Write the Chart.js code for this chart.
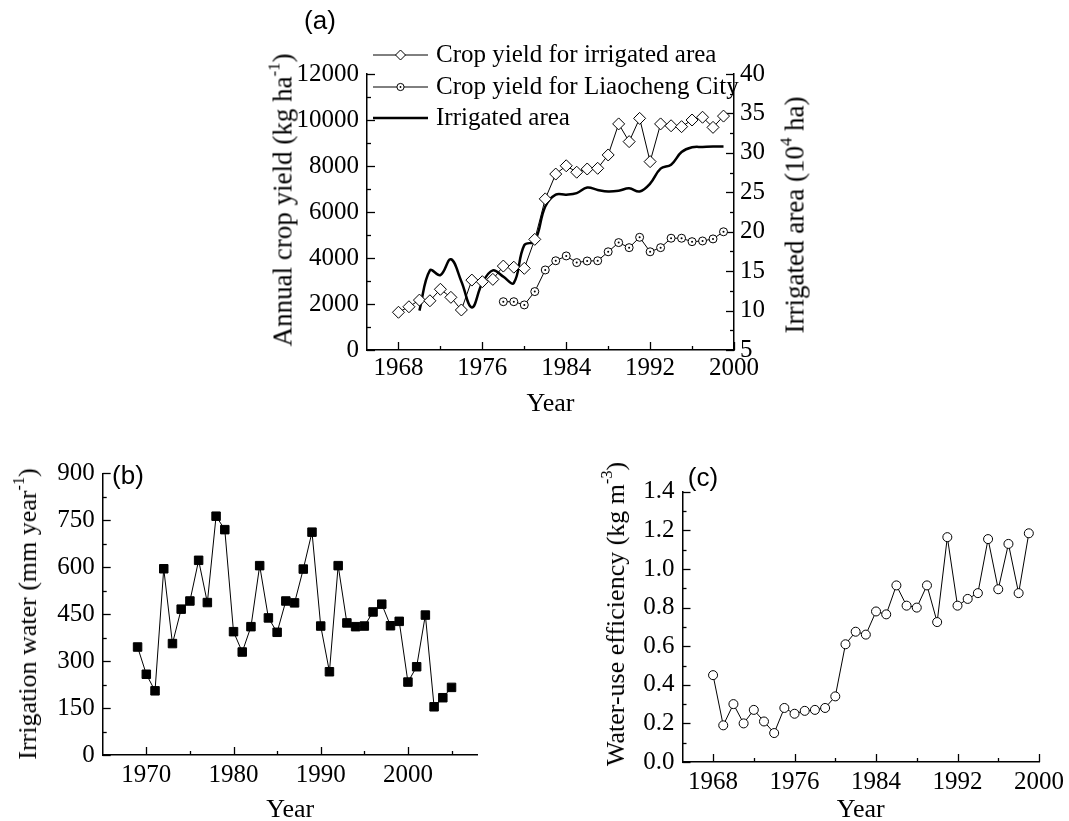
<!DOCTYPE html>
<html>
<head>
<meta charset="utf-8">
<title>Crop yield, irrigation water and water-use efficiency</title>
<script src="https://cdn.jsdelivr.net/npm/chart.js@4.4.1/dist/chart.umd.min.js"></script>
<style>
  html, body { margin: 0; padding: 0; background: #fff; overflow: hidden; }
  body { width: 1069px; height: 821px; position: relative; font-family: "Liberation Serif", "Times New Roman", serif; color: #000; }
  .box { position: absolute; }
  .ttl { position: absolute; white-space: nowrap; font-size: 26px; line-height: 1; transform: translate(-50%, -50%) rotate(-90deg); }
  .ttl.big { font-size: 27px; }
  .ttl sup { font-size: 62%; position: relative; top: -0.15em; line-height: 0; vertical-align: super; }
  .tag { position: absolute; font-family: "Liberation Sans", Arial, sans-serif; font-size: 26px; line-height: 1; transform: translate(-50%, -50%); }
</style>
</head>
<body>
<div class="box" style="left:230px;top:0;"><canvas id="chart-a" width="600" height="430"></canvas></div>
<div class="box" style="left:0;top:420px;"><canvas id="chart-b" width="520" height="403"></canvas></div>
<div class="box" style="left:530px;top:420px;"><canvas id="chart-c" width="539" height="403"></canvas></div>

<div class="tag" style="left:320px;top:20px;">(a)</div>
<div class="tag" style="left:128px;top:475px;">(b)</div>
<div class="tag" style="left:703px;top:477px;">(c)</div>

<div class="ttl big" style="left:283px;top:200px;">Annual crop yield (kg ha<sup>-1</sup>)</div>
<div class="ttl big" style="left:795px;top:215px;">Irrigated area (10<sup>4</sup> ha)</div>
<div class="ttl" style="left:28px;top:614px;">Irrigation water (mm year<sup>-1</sup>)</div>
<div class="ttl" style="left:616px;top:614px;">Water-use efficiency (kg m<sup>-3</sup>)</div>

<script>
// ---- data (a) ----
const yearsA = [1968, 1969, 1970, 1971, 1972, 1973, 1974, 1975, 1976, 1977, 1978, 1979, 1980, 1981, 1982, 1983,
  1984, 1985, 1986, 1987, 1988, 1989, 1990, 1991, 1992, 1993, 1994, 1995, 1996, 1997, 1998, 1999];
const yieldIrrigated = [1640, 1880, 2170, 2140, 2640, 2290, 1740, 3040, 2970, 3070, 3650, 3600, 3550, 4810, 6570, 7650,
  8010, 7730, 7870, 7900, 8480, 9830, 9060, 10070, 8190, 9830, 9750, 9710, 10000, 10120, 9680, 10170];
const yearsCity = [1978, 1979, 1980, 1981, 1982, 1983, 1984, 1985, 1986, 1987, 1988,
  1989, 1990, 1991, 1992, 1993, 1994, 1995, 1996, 1997, 1998, 1999];
const yieldCity = [2100, 2100, 1960, 2540, 3480, 3880, 4090, 3800, 3870, 3880, 4270,
  4670, 4450, 4900, 4270, 4450, 4860, 4860, 4710, 4740, 4830, 5140];
const yearsArea = [1970, 1971, 1972, 1973, 1974, 1975, 1976, 1977, 1978, 1979, 1980, 1981, 1982, 1983, 1984,
  1985, 1986, 1987, 1988, 1989, 1990, 1991, 1992, 1993, 1994, 1995, 1996, 1997, 1998, 1999];
const irrigatedArea = [10.0, 15.1, 14.5, 16.5, 13.7, 10.4, 13.5, 15.1, 14.3, 13.5, 18.3, 18.8, 23.2, 24.7, 24.7,
  24.9, 25.6, 25.3, 25.1, 25.2, 25.5, 25.1, 26.1, 28.0, 28.5, 30.1, 30.7, 30.75, 30.8, 30.8];

// ---- data (b) ----
const yearsB = [1969, 1970, 1971, 1972, 1973, 1974, 1975, 1976, 1977, 1978, 1979, 1980, 1981, 1982, 1983, 1984,
  1985, 1986, 1987, 1988, 1989, 1990, 1991, 1992, 1993, 1994, 1995, 1996, 1997, 1998, 1999, 2000,
  2001, 2002, 2003, 2004, 2005];
const irrigationWater = [345, 258, 205, 595, 356, 466, 492, 622, 487, 763, 720, 394, 329, 410, 605, 438,
  392, 492, 486, 594, 712, 412, 266, 605, 422, 410, 412, 457, 482, 413, 427, 233,
  282, 447, 154, 183, 216];

// ---- data (c) ----
const yearsC = yearsA;
const waterUseEff = [0.45, 0.19, 0.30, 0.20, 0.27, 0.21, 0.15, 0.28, 0.25, 0.265, 0.27, 0.28, 0.34, 0.61, 0.675, 0.66,
  0.78, 0.765, 0.915, 0.81, 0.80, 0.915, 0.725, 1.165, 0.81, 0.845, 0.875, 1.155, 0.895, 1.13, 0.875, 1.185];

// ---- ticks ----
const xTicksA = [1968, 1976, 1984, 1992, 2000];
const xMinorA = [1972, 1980, 1988, 1996];
const yTicksA = [0, 2000, 4000, 6000, 8000, 10000, 12000];
const yMinorA = [1000, 3000, 5000, 7000, 9000, 11000];
const y1TicksA = [5, 10, 15, 20, 25, 30, 35, 40];
const y1MinorA = [7.5, 12.5, 17.5, 22.5, 27.5, 32.5, 37.5];
const xTicksB = [1970, 1980, 1990, 2000];
const xMinorB = [1975, 1985, 1995, 2005];
const yTicksB = [0, 150, 300, 450, 600, 750, 900];
const yMinorB = [75, 225, 375, 525, 675, 825];
const xTicksC = xTicksA;
const xMinorC = xMinorA;
const yTicksC = [0, 0.2, 0.4, 0.6, 0.8, 1.0, 1.2, 1.4];
const yMinorC = [0.1, 0.3, 0.5, 0.7, 0.9, 1.1, 1.3];

const serif = '"Liberation Serif", "Times New Roman", serif';
Chart.defaults.font.family = serif;
Chart.defaults.font.size = 25;
Chart.defaults.color = '#000';
Chart.defaults.animation = false;

const pts = (xs, ys) => xs.map((x, i) => ({ x: x, y: ys[i] }));

// ticks pointing into the plot, major and minor
const inwardTicks = {
  id: 'inwardTicks',
  beforeDatasetsDraw(chart, args, opts) {
    const ctx = chart.ctx;
    ctx.save();
    ctx.strokeStyle = '#000';
    ctx.lineWidth = 1.3;
    (opts.axes || []).forEach(ax => {
      const scale = chart.scales[ax.id];
      const draw = (v, len) => {
        const p = Math.round(scale.getPixelForValue(v)) + 0.5;
        ctx.beginPath();
        if (scale.position === 'bottom') { ctx.moveTo(p, scale.top); ctx.lineTo(p, scale.top - len); }
        else if (scale.position === 'left') { ctx.moveTo(scale.right, p); ctx.lineTo(scale.right + len, p); }
        else { ctx.moveTo(scale.left, p); ctx.lineTo(scale.left - len, p); }
        ctx.stroke();
      };
      scale.ticks.forEach(t => draw(t.value, 8));
      ax.minor.forEach(v => draw(v, 4));
    });
    ctx.restore();
  }
};

// small dot in the middle of the city-yield circles
const centerDots = {
  id: 'centerDots',
  afterDatasetsDraw(chart, args, opts) {
    const ctx = chart.ctx;
    ctx.save();
    ctx.fillStyle = '#000';
    chart.getDatasetMeta(opts.datasetIndex).data.forEach(pt => {
      ctx.beginPath();
      ctx.arc(pt.x, pt.y, 1, 0, Math.PI * 2);
      ctx.fill();
    });
    ctx.restore();
  }
};

// legend of panel (a), drawn at the top-left corner
const sketchLegend = {
  id: 'sketchLegend',
  afterDraw(chart, args, opts) {
    const ctx = chart.ctx;
    ctx.save();
    ctx.font = '25px ' + serif;
    ctx.textBaseline = 'middle';
    opts.rows.forEach((row, i) => {
      const ds = chart.data.datasets[row.dataset];
      const y = opts.y[i];
      const xm = (opts.x0 + opts.x1) / 2;
      ctx.strokeStyle = '#000';
      ctx.lineWidth = ds.borderWidth;
      ctx.beginPath();
      ctx.moveTo(opts.x0, y);
      ctx.lineTo(opts.x1, y);
      ctx.stroke();
      ctx.lineWidth = 1;
      ctx.fillStyle = '#fff';
      if (row.marker === 'diamond') {
        ctx.beginPath();
        ctx.moveTo(xm - 5, y); ctx.lineTo(xm, y - 5); ctx.lineTo(xm + 5, y); ctx.lineTo(xm, y + 5);
        ctx.closePath(); ctx.fill(); ctx.stroke();
      } else if (row.marker === 'dotcircle') {
        ctx.beginPath(); ctx.arc(xm, y, 3.6, 0, Math.PI * 2); ctx.fill(); ctx.stroke();
        ctx.fillStyle = '#000';
        ctx.beginPath(); ctx.arc(xm, y, 0.9, 0, Math.PI * 2); ctx.fill();
      }
      ctx.fillStyle = '#000';
      ctx.fillText(ds.label, opts.tx, y);
    });
    ctx.restore();
  }
};

function axis(position, min, max, major, size, pad, fmt, title) {
  const horizontal = position === 'bottom';
  return {
    type: 'linear', position: position, min: min, max: max,
    afterBuildTicks: s => { s.ticks = major.map(v => ({ value: v })); },
    afterFit: s => { if (horizontal) s.height = size; else s.width = size; },
    grid: { display: false, drawTicks: false },
    border: { display: true, color: '#000', width: 1.5 },
    ticks: { padding: pad, callback: fmt },
    title: title ? { display: true, text: title, font: { size: 26, lineHeight: 1 }, padding: 0 } : { display: false }
  };
}

const asText = v => String(v);

// ---- panel (a) ----
new Chart(document.getElementById('chart-a'), {
  type: 'line',
  data: {
    datasets: [
      {
        label: 'Crop yield for irrigated area', data: pts(yearsA, yieldIrrigated), yAxisID: 'y',
        borderColor: '#000', borderWidth: 1, pointStyle: 'rectRot', pointRadius: 6,
        pointBackgroundColor: '#fff', pointBorderColor: '#000', pointBorderWidth: 1
      },
      {
        label: 'Crop yield for Liaocheng City', data: pts(yearsCity, yieldCity), yAxisID: 'y',
        borderColor: '#000', borderWidth: 1, pointStyle: 'circle', pointRadius: 4,
        pointBackgroundColor: '#fff', pointBorderColor: '#000', pointBorderWidth: 1
      },
      {
        label: 'Irrigated area', data: pts(yearsArea, irrigatedArea), yAxisID: 'y1',
        borderColor: '#000', borderWidth: 2.5, pointRadius: 0, tension: 0.4
      }
    ]
  },
  options: {
    responsive: false,
    layout: { padding: { left: 0, top: 74, right: 36, bottom: 13 } },
    scales: {
      x: axis('bottom', 1965, 2000, xTicksA, 67, 3, asText, 'Year'),
      y: axis('left', 0, 12000, yTicksA, 137, 8, asText),
      y1: axis('right', 5, 40, y1TicksA, 60, 6, asText)
    },
    plugins: {
      legend: { display: false },
      tooltip: { enabled: false },
      inwardTicks: { axes: [{ id: 'x', minor: xMinorA }, { id: 'y', minor: yMinorA }, { id: 'y1', minor: y1MinorA }] },
      centerDots: { datasetIndex: 1 },
      sketchLegend: {
        x0: 143, x1: 198, tx: 206, y: [55, 87, 118],
        rows: [{ dataset: 0, marker: 'diamond' }, { dataset: 1, marker: 'dotcircle' }, { dataset: 2, marker: null }]
      }
    }
  },
  plugins: [inwardTicks, centerDots, sketchLegend]
});

// ---- panel (b) ----
new Chart(document.getElementById('chart-b'), {
  type: 'line',
  data: {
    datasets: [{
      label: 'Irrigation water', data: pts(yearsB, irrigationWater),
      borderColor: '#000', borderWidth: 1, pointStyle: 'rect', pointRadius: 6,
      pointBackgroundColor: '#000', pointBorderColor: '#000', pointBorderWidth: 1
    }]
  },
  options: {
    responsive: false,
    layout: { padding: { left: 0, top: 53.3, right: 42.3, bottom: 0 } },
    scales: {
      x: axis('bottom', 1965, 2008, xTicksB, 68, 5, asText, 'Year'),
      y: axis('left', 0, 900, yTicksB, 102.7, 8, asText)
    },
    plugins: {
      legend: { display: false },
      tooltip: { enabled: false },
      inwardTicks: { axes: [{ id: 'x', minor: xMinorB }, { id: 'y', minor: yMinorB }] }
    }
  },
  plugins: [inwardTicks]
});

// ---- panel (c) ----
new Chart(document.getElementById('chart-c'), {
  type: 'line',
  data: {
    datasets: [{
      label: 'Water-use efficiency', data: pts(yearsC, waterUseEff),
      borderColor: '#000', borderWidth: 1, pointStyle: 'circle', pointRadius: 4.5,
      pointBackgroundColor: '#fff', pointBorderColor: '#000', pointBorderWidth: 1
    }]
  },
  options: {
    responsive: false,
    layout: { padding: { left: 0, top: 71.8, right: 27.5, bottom: 0 } },
    scales: {
      x: axis('bottom', 1965, 2000, xTicksC, 61, 5, asText, 'Year'),
      y: axis('left', 0, 1.4, yTicksC, 152.5, 8, v => v.toFixed(1))
    },
    plugins: {
      legend: { display: false },
      tooltip: { enabled: false },
      inwardTicks: { axes: [{ id: 'x', minor: xMinorC }, { id: 'y', minor: yMinorC }] }
    }
  },
  plugins: [inwardTicks]
});
</script>
</body>
</html>
